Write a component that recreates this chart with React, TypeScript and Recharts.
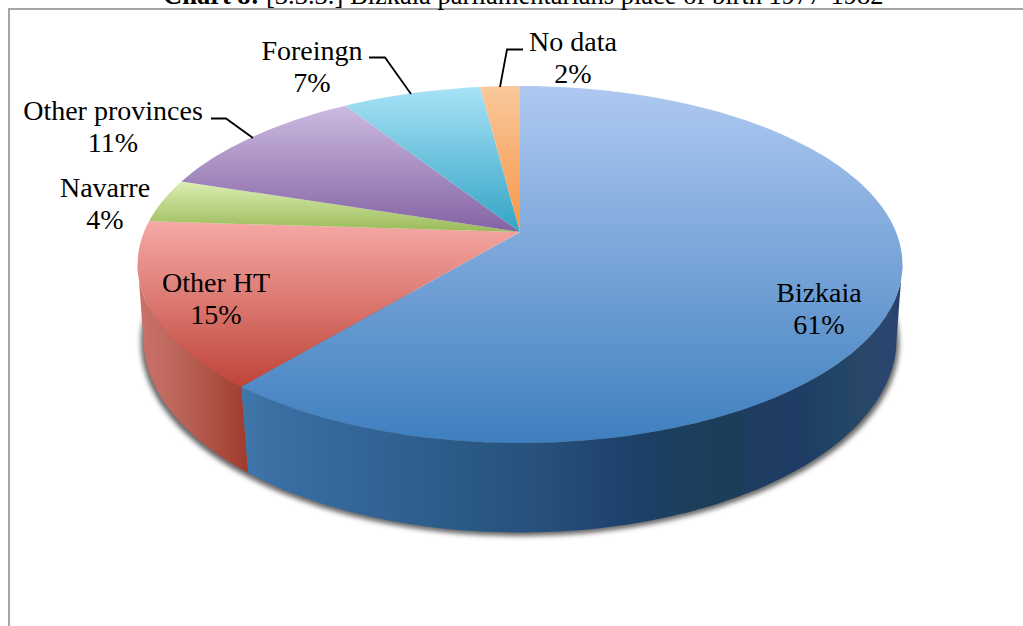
import { Pie, PieChart } from "recharts";

// Slices, clockwise from 12 o'clock
const categories = ["Bizkaia", "Other HT", "Navarre", "Other provinces", "Foreingn", "No data"];
const shares = [61, 15, 4, 11, 7, 2];

const titleBold = "Chart 8:";
const titleRest = " [3.3.3.] Bizkaia parliamentarians place of birth 1977-1982";

const topColors = [
  ["#AFC9F1", "#3F7FBF"],
  ["#F6A9A6", "#BF4438"],
  ["#DBEEB4", "#9ABA58"],
  ["#CCBAE0", "#8363A3"],
  ["#A8E2F7", "#33A4C4"],
  ["#F9C89C", "#F79646"],
];

// wall shading, [screen x, colour]
const bizkaiaWall: [number, string][] = [
  [240, "#4078AA"], [270, "#3C70A4"], [300, "#386B9F"], [340, "#35679A"], [380, "#326394"],
  [420, "#2E5E8D"], [460, "#2B5A87"], [500, "#285580"], [540, "#28507B"], [570, "#224B76"],
  [600, "#214570"], [640, "#1D4068"], [680, "#1B3F5C"], [740, "#1B3E5A"], [748, "#1F3C62"],
  [800, "#1F3D64"], [840, "#204566"], [860, "#2A4668"], [890, "#2A4670"], [903, "#26406A"],
];
const otherHtWall: [number, string][] = [
  [137, "#C9736A"], [165, "#C06A60"], [200, "#B35A4C"], [225, "#A84A3A"], [250, "#A03A2C"],
];
const wallColors: Record<number, [number, string][]> = { 0: bizkaiaWall, 1: otherHtWall };

const labelLayout: Record<string, { x: number; y: number; line?: number[][] }> = {
  Bizkaia: { x: 819, y: 302 },
  "Other HT": { x: 216, y: 292 },
  Navarre: { x: 105, y: 197 },
  "Other provinces": { x: 113, y: 120, line: [[211, 118.5], [226, 118.5], [253, 138]] },
  Foreingn: { x: 312, y: 60, line: [[369, 57.5], [385, 57.5], [411, 94]] },
  "No data": { x: 573, y: 51, line: [[523, 49.5], [507, 49.5], [500, 87]] },
};

const chartData = categories.map((name, i) => ({ name, value: shares[i], idx: i }));

const WIDTH = 1023;
const HEIGHT = 626;
const CX = 520;
const CY = 232;
const R = 380;
const FONT = "'Liberation Serif', serif";

// tilted disc: homography from the unit circle to the screen
const topPt = (deg: number) => {
  const t = (deg * Math.PI) / 180;
  const u = Math.sin(t);
  const v = -Math.cos(t);
  const d = 1 - 0.182 * v;
  return [CX + (376 * u) / d, CY + (172.6 * v) / d];
};
const bottomPt = (deg: number) => {
  const t = (deg * Math.PI) / 180;
  const u = Math.sin(t);
  const v = -Math.cos(t);
  const d = 1 - 0.17 * v;
  return [CX + (371 * u) / d, 306 + (188 * v) / d];
};
const toD = (pts: number[][]) =>
  "M" + pts.map((p) => `${p[0].toFixed(1)},${p[1].toFixed(1)}`).join("L") + "Z";

const sweep = (fn: (deg: number) => number[], from: number, to: number) => {
  const pts: number[][] = [];
  for (let a = from; a < to; a += 1) pts.push(fn(a));
  pts.push(fn(to));
  return pts;
};

const Slice = (props: any) => {
  const { startAngle, endAngle, payload, idx } = props;
  const i = payload?.idx ?? idx ?? 0;
  const from = 90 - startAngle;
  const to = 90 - endAngle;

  // only the front of the disc shows a wall; 100 and 260 are its silhouette
  const wFrom = Math.max(from, 100);
  const wTo = Math.min(to, 260);
  const stops = wallColors[i];
  const showWall = stops && wFrom < wTo;
  const wall = showWall
    ? [...sweep(topPt, wFrom, wTo), ...sweep(bottomPt, wFrom, wTo).reverse()]
    : [];
  const x0 = stops ? stops[0][0] : 0;
  const x1 = stops ? stops[stops.length - 1][0] : 1;

  const shadow =
    i === 0
      ? sweep(bottomPt, 85, 275).map((p) => [CX + (p[0] - CX) * 1.007, p[1] + 3.5])
      : [];

  return (
    <g>
      <defs>
        <linearGradient id={`top-${i}`} x1="0" y1="0" x2="0" y2="1">
          <stop offset="0%" stopColor={topColors[i][0]} />
          <stop offset="100%" stopColor={topColors[i][1]} />
        </linearGradient>
        {stops && (
          <linearGradient id={`wall-${i}`} gradientUnits="userSpaceOnUse" x1={x0} y1="0" x2={x1} y2="0">
            {stops.map(([x, c]) => (
              <stop key={x} offset={(x - x0) / (x1 - x0)} stopColor={c} />
            ))}
          </linearGradient>
        )}
        <filter id="soft" x="-5%" y="-5%" width="110%" height="110%">
          <feGaussianBlur stdDeviation="2.4" />
        </filter>
      </defs>
      {i === 0 && <path d={toD(shadow)} fill="#666" filter="url(#soft)" />}
      {showWall && <path d={toD(wall)} fill={`url(#wall-${i})`} />}
      <path d={toD([[CX, CY], ...sweep(topPt, from, to)])} fill={`url(#top-${i})`} />
    </g>
  );
};

const renderLabel = (props: any) => {
  const name = props.name ?? props.payload?.name;
  const pos = labelLayout[name];
  if (!pos) return null;
  return (
    <g>
      {pos.line && (
        <polyline
          points={pos.line.map((p) => p.join(",")).join(" ")}
          fill="none"
          stroke="#000"
          strokeWidth={1.8}
        />
      )}
      <text x={pos.x} y={pos.y} textAnchor="middle" fontFamily={FONT} fontSize={28} fill="#000">
        <tspan x={pos.x}>{name}</tspan>
        <tspan x={pos.x} dy={32}>{`${props.value}%`}</tspan>
      </text>
    </g>
  );
};

export default function App() {
  return (
    <div style={{ position: "absolute", left: 0, top: 0, width: WIDTH, height: HEIGHT, overflow: "hidden", background: "#fff" }}>
      <div
        style={{
          position: "absolute",
          left: 8,
          top: 8,
          width: WIDTH,
          height: HEIGHT,
          borderLeft: "2px solid #a6a6a6",
          borderTop: "2px solid #a6a6a6",
        }}
      />
      <div
        style={{
          position: "absolute",
          left: 163,
          top: -20,
          whiteSpace: "pre",
          fontFamily: FONT,
          fontSize: 26.5,
          color: "#000",
        }}
      >
        <b>{titleBold}</b>
        {titleRest}
      </div>
      <div style={{ position: "absolute", left: 0, top: 0 }}>
        <PieChart width={WIDTH} height={HEIGHT} margin={{ top: 0, right: 0, bottom: 0, left: 0 }}>
          <Pie
            data={chartData}
            dataKey="value"
            nameKey="name"
            cx={CX}
            cy={CY}
            outerRadius={R}
            startAngle={90}
            endAngle={-270}
            stroke="none"
            isAnimationActive={false}
            shape={Slice}
            label={renderLabel}
            labelLine={false}
          />
        </PieChart>
      </div>
    </div>
  );
}
